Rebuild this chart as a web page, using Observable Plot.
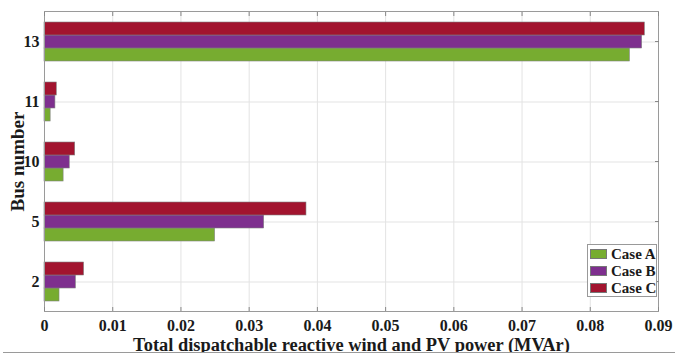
<!DOCTYPE html>
<html><head><meta charset="utf-8">
<script src="https://cdn.jsdelivr.net/npm/d3@7"></script>
<script src="https://cdn.jsdelivr.net/npm/@observablehq/plot@0.6"></script>
<style>
body{margin:0;background:#fff;}
#wrap{position:relative;width:675px;height:355px;overflow:hidden;background:#fff;}
.legend{position:absolute;left:587px;top:244px;width:70px;height:53px;border:1px solid #999;background:#fff;box-sizing:border-box;font:bold 15px "Liberation Serif",serif;color:#1a1a1a;padding:1px 0 0 2px;}
.legend div{display:flex;align-items:center;height:16.8px;white-space:nowrap;}
.legend span.sw{display:inline-block;width:17px;height:10px;margin-right:4px;border:0.5px solid #777;box-sizing:border-box;flex:none;}
.edge{position:absolute;left:3px;right:0;top:352px;height:1px;background:#9a9a9a;}
.below{position:absolute;left:0;right:0;top:353px;height:2px;background:#fff;}
</style></head>
<body><div id="wrap"></div>
<script>
const buses = ["13", "11", "10", "5", "2"];
const cases = ["Case A", "Case B", "Case C"];
const caseA = [0.0858, 0.0009, 0.0028, 0.0250, 0.0022];
const caseB = [0.0876, 0.0016, 0.0037, 0.0322, 0.0046];
const caseC = [0.0880, 0.0018, 0.0045, 0.0384, 0.0058];
const xTicks = [0, 0.01, 0.02, 0.03, 0.04, 0.05, 0.06, 0.07, 0.08, 0.09];
const xTickLabels = ["0", "0.01", "0.02", "0.03", "0.04", "0.05", "0.06", "0.07", "0.08", "0.09"];
const colors = ["#77ac30", "#7e2f8e", "#a2142f"];
const xTitle = "Total dispatchable reactive wind and PV power (MVAr)";
const yTitle = "Bus number";

const series = [caseA, caseB, caseC];
const rows = [];
buses.forEach((b, i) => cases.forEach((c, j) => rows.push({bus: b, case: c, value: series[j][i]})));
const mid = buses.map(b => ({bus: b, case: "Case B"}));

const font = "Liberation Serif";
const chart = Plot.plot({
  width: 675, height: 355,
  marginLeft: 44, marginRight: 17, marginTop: 10, marginBottom: 43,
  style: {fontFamily: font, background: "white", color: "#1a1a1a"},
  x: {domain: [0, 0.09], labelArrow: "none"},
  y: {domain: ["Case C", "Case B", "Case A"], paddingInner: 0, paddingOuter: 0.69, axis: null},
  fy: {domain: buses, padding: 0, axis: null},
  color: {domain: cases, range: colors},
  marks: [
    Plot.gridX(xTicks, {stroke: "#e3e3e3", strokeOpacity: 1}),
    Plot.ruleY(mid, {fy: "bus", y: "case", stroke: "#e3e3e3"}),
    Plot.barX(rows, {fy: "bus", y: "case", x: "value", fill: "case", stroke: "#808080", strokeWidth: 0.6}),
    Plot.frame({facet: "super", stroke: "#9a9a9a"}),
    Plot.axisX(xTicks, {anchor: "bottom", tickSize: -4, tickPadding: 12, tickFormat: (d, i) => xTickLabels[i],
      fontSize: 16, fontWeight: "bold", stroke: "#888", label: null}),
    Plot.axisX(xTicks, {anchor: "bottom", tickSize: 0, tickFormat: () => "", fontSize: 18.4, fontWeight: "bold",
      label: xTitle, labelAnchor: "center", labelArrow: "none", labelOffset: 39}),
    Plot.axisX(xTicks, {anchor: "top", tickSize: -4, tickFormat: () => "", stroke: "#888", label: null}),
    Plot.axisFy({anchor: "left", tickSize: 0, tickPadding: 5, fontSize: 16, fontWeight: "bold", label: null}),
    Plot.axisFy({anchor: "left", tickSize: 0, tickFormat: () => "", fontSize: 19, fontWeight: "bold",
      label: yTitle, labelAnchor: "center", labelOffset: 34}),
    Plot.axisFy({anchor: "right", tickSize: -4, tickFormat: () => "", stroke: "#888", label: null})
  ]
});
const wrap = document.getElementById("wrap");
wrap.appendChild(chart);

const lg = document.createElement("div");
lg.className = "legend";
cases.forEach((c, j) => {
  const r = document.createElement("div");
  r.innerHTML = `<span class="sw" style="background:${colors[j]}"></span>${c}`;
  lg.appendChild(r);
});
wrap.appendChild(lg);
const below = document.createElement("div"); below.className = "below"; wrap.appendChild(below);
const edge = document.createElement("div"); edge.className = "edge"; wrap.appendChild(edge);
</script></body></html>
